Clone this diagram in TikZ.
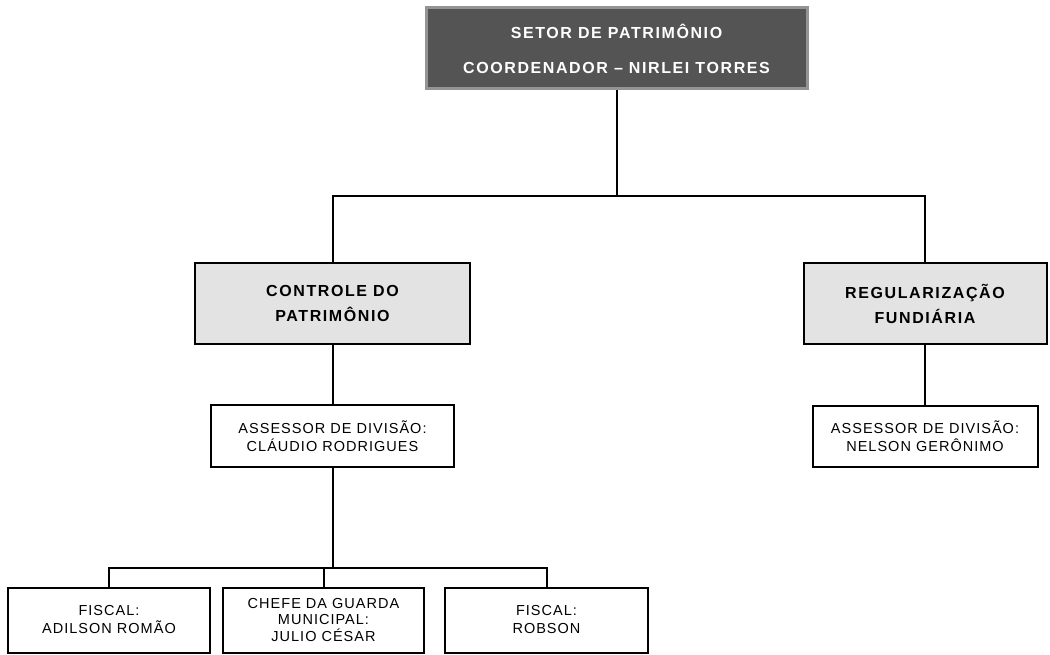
\documentclass[tikz,border=0pt]{standalone}
\usepackage{fontspec}
\setmainfont{Liberation Sans}
\newfontfamily\headfont[LetterSpace=10]{Liberation Sans}
\newfontfamily\boxfont[LetterSpace=7]{Liberation Sans}
\begin{document}
\begin{tikzpicture}[x=1pt,y=-1pt,
  line width=2pt,
  topbox/.style={draw=black!42, line width=3pt, fill=black!67, text=white,
    inner sep=0pt, align=center,
    font=\headfont\bfseries\fontsize{16}{35}\selectfont},
  areabox/.style={draw=black, fill=black!11, inner sep=0pt, align=center,
    font=\headfont\bfseries\fontsize{16}{25}\selectfont},
  staffbox/.style={draw=black, fill=white, inner sep=0pt, align=center,
    font=\boxfont\fontsize{14.5}{18}\selectfont},
  link/.style={draw=black, line width=2pt}]
\useasboundingbox (0,0) rectangle (1050,655);
\fill[white] (0,0) rectangle (1050,655);

% head of the sector
\node[topbox, minimum width=381pt, minimum height=81pt] (top) at (616.5,48.5)
  {SETOR DE PATRIMÔNIO\\COORDENADOR – NIRLEI TORRES};

% divisions
\node[areabox, minimum width=275pt, minimum height=81pt] (ctrl) at (332.5,303.5)
  {CONTROLE DO\\PATRIMÔNIO};
\node[areabox, minimum width=243pt, minimum height=81pt] (reg) at (925,303.5)
  {REGULARIZAÇÃO\\FUNDIÁRIA};

% division advisers
\node[staffbox, minimum width=243pt, minimum height=62pt] (adv1) at (332.5,436)
  {ASSESSOR DE DIVISÃO:\\CLÁUDIO RODRIGUES};
\node[staffbox, minimum width=225pt, minimum height=61pt] (adv2) at (925,436.5)
  {ASSESSOR DE DIVISÃO:\\NELSON GERÔNIMO};

% staff
\node[staffbox, minimum width=202pt, minimum height=65pt] (fis1) at (109,620)
  {FISCAL:\\ADILSON ROMÃO};
\node[staffbox, minimum width=201pt, minimum height=65pt,
  font=\boxfont\fontsize{14.5}{16.5}\selectfont] (chefe) at (323.5,620)
  {CHEFE DA GUARDA\\MUNICIPAL:\\JULIO CÉSAR};
\node[staffbox, minimum width=203pt, minimum height=65pt] (fis2) at (546.5,620)
  {FISCAL:\\ROBSON};

% connectors
\coordinate (bus1) at (616.5,196);
\coordinate (bus2) at (332.5,568);
\draw[link] (top.south) -- (bus1);
\draw[link] (bus1) -| (ctrl.north);
\draw[link] (bus1) -| (reg.north);
\draw[link] (ctrl.south) -- (adv1.north);
\draw[link] (reg.south) -- (adv2.north);
\draw[link] (adv1.south) -- (bus2);
\draw[link] (bus2) -| (fis1.north);
\draw[link] (bus2) -| (chefe.north);
\draw[link] (bus2) -| (fis2.north);
\end{tikzpicture}
\end{document}
